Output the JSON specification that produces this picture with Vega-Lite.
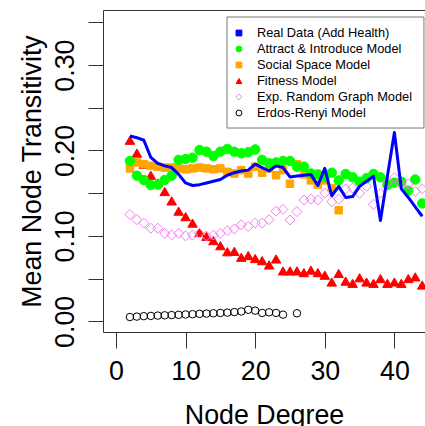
{
  "$schema": "https://vega.github.io/schema/vega-lite/v6.json",
  "autosize": "none",
  "width": 322,
  "height": 322,
  "padding": {"left": 103, "top": 10, "right": 0, "bottom": 94},
  "background": "white",
  "config": {
    "view": {"stroke": null},
    "font": "Liberation Sans",
    "axis": {"grid": false, "domainColor": "#333333", "tickColor": "#333333", "labelColor": "black", "titleColor": "black", "labelFont": "Liberation Sans", "titleFont": "Liberation Sans", "titleFontWeight": "normal", "domainWidth": 1, "tickWidth": 1}
  },
  "datasets": {
    "real": [
      {"x": 2, "y": 0.217}, {"x": 3, "y": 0.215}, {"x": 4, "y": 0.212}, {"x": 5, "y": 0.192}, {"x": 6, "y": 0.185},
      {"x": 7, "y": 0.182}, {"x": 8, "y": 0.180}, {"x": 9, "y": 0.172}, {"x": 10, "y": 0.162}, {"x": 11, "y": 0.159},
      {"x": 12, "y": 0.160}, {"x": 13, "y": 0.162}, {"x": 14, "y": 0.164}, {"x": 15, "y": 0.166}, {"x": 16, "y": 0.171},
      {"x": 17, "y": 0.174}, {"x": 18, "y": 0.176}, {"x": 19, "y": 0.177}, {"x": 20, "y": 0.184}, {"x": 21, "y": 0.180},
      {"x": 22, "y": 0.176}, {"x": 23, "y": 0.182}, {"x": 24, "y": 0.180}, {"x": 25, "y": 0.169}, {"x": 26, "y": 0.170},
      {"x": 27, "y": 0.171}, {"x": 28, "y": 0.172}, {"x": 29, "y": 0.159}, {"x": 30, "y": 0.179}, {"x": 31, "y": 0.147},
      {"x": 32, "y": 0.158}, {"x": 33, "y": 0.145}, {"x": 34, "y": 0.146}, {"x": 35, "y": 0.158}, {"x": 36, "y": 0.164},
      {"x": 37, "y": 0.170}, {"x": 38, "y": 0.118}, {"x": 39, "y": 0.170}, {"x": 40, "y": 0.221}, {"x": 41, "y": 0.155},
      {"x": 42, "y": 0.145}, {"x": 43, "y": 0.134}, {"x": 44, "y": 0.123}
    ],
    "series": [
      {"s": "Real Data (Add Health)"}, {"s": "Attract & Introduce Model"}, {"s": "Social Space Model"},
      {"s": "Fitness Model"}, {"s": "Exp. Random Graph Model"}, {"s": "Erdos-Renyi Model"}
    ],
    "pts": [
      {"s": "Fitness Model", "x": 2, "y": 0.212}, {"s": "Fitness Model", "x": 3, "y": 0.197}, {"s": "Fitness Model", "x": 4, "y": 0.184},
      {"s": "Fitness Model", "x": 5, "y": 0.171}, {"s": "Fitness Model", "x": 6, "y": 0.162}, {"s": "Fitness Model", "x": 7, "y": 0.152},
      {"s": "Fitness Model", "x": 8, "y": 0.141}, {"s": "Fitness Model", "x": 9, "y": 0.129}, {"s": "Fitness Model", "x": 10, "y": 0.1225},
      {"s": "Fitness Model", "x": 11, "y": 0.115}, {"s": "Fitness Model", "x": 12, "y": 0.104}, {"s": "Fitness Model", "x": 13, "y": 0.0995},
      {"s": "Fitness Model", "x": 14, "y": 0.0945}, {"s": "Fitness Model", "x": 15, "y": 0.0885}, {"s": "Fitness Model", "x": 16, "y": 0.0815},
      {"s": "Fitness Model", "x": 17, "y": 0.082}, {"s": "Fitness Model", "x": 18, "y": 0.075}, {"s": "Fitness Model", "x": 19, "y": 0.077},
      {"s": "Fitness Model", "x": 20, "y": 0.0735}, {"s": "Fitness Model", "x": 21, "y": 0.071}, {"s": "Fitness Model", "x": 22, "y": 0.066},
      {"s": "Fitness Model", "x": 23, "y": 0.073}, {"s": "Fitness Model", "x": 24, "y": 0.059}, {"s": "Fitness Model", "x": 25, "y": 0.059},
      {"s": "Fitness Model", "x": 26, "y": 0.059}, {"s": "Fitness Model", "x": 27, "y": 0.057}, {"s": "Fitness Model", "x": 28, "y": 0.060},
      {"s": "Fitness Model", "x": 29, "y": 0.057}, {"s": "Fitness Model", "x": 30, "y": 0.054}, {"s": "Fitness Model", "x": 31, "y": 0.046},
      {"s": "Fitness Model", "x": 32, "y": 0.056}, {"s": "Fitness Model", "x": 33, "y": 0.047}, {"s": "Fitness Model", "x": 34, "y": 0.0445},
      {"s": "Fitness Model", "x": 35, "y": 0.051}, {"s": "Fitness Model", "x": 36, "y": 0.046}, {"s": "Fitness Model", "x": 37, "y": 0.0445},
      {"s": "Fitness Model", "x": 38, "y": 0.050}, {"s": "Fitness Model", "x": 39, "y": 0.0445}, {"s": "Fitness Model", "x": 40, "y": 0.046},
      {"s": "Fitness Model", "x": 41, "y": 0.0445}, {"s": "Fitness Model", "x": 42, "y": 0.050}, {"s": "Fitness Model", "x": 43, "y": 0.052},
      {"s": "Fitness Model", "x": 44, "y": 0.0425},

      {"s": "Social Space Model", "x": 2, "y": 0.179}, {"s": "Social Space Model", "x": 3, "y": 0.186}, {"s": "Social Space Model", "x": 4, "y": 0.184},
      {"s": "Social Space Model", "x": 5, "y": 0.182}, {"s": "Social Space Model", "x": 6, "y": 0.181}, {"s": "Social Space Model", "x": 7, "y": 0.180},
      {"s": "Social Space Model", "x": 8, "y": 0.180}, {"s": "Social Space Model", "x": 9, "y": 0.179}, {"s": "Social Space Model", "x": 10, "y": 0.178},
      {"s": "Social Space Model", "x": 11, "y": 0.179}, {"s": "Social Space Model", "x": 12, "y": 0.180}, {"s": "Social Space Model", "x": 13, "y": 0.179},
      {"s": "Social Space Model", "x": 14, "y": 0.178}, {"s": "Social Space Model", "x": 15, "y": 0.179}, {"s": "Social Space Model", "x": 16, "y": 0.175},
      {"s": "Social Space Model", "x": 17, "y": 0.173}, {"s": "Social Space Model", "x": 18, "y": 0.177}, {"s": "Social Space Model", "x": 19, "y": 0.173},
      {"s": "Social Space Model", "x": 20, "y": 0.181}, {"s": "Social Space Model", "x": 21, "y": 0.174}, {"s": "Social Space Model", "x": 22, "y": 0.179},
      {"s": "Social Space Model", "x": 23, "y": 0.171}, {"s": "Social Space Model", "x": 24, "y": 0.177}, {"s": "Social Space Model", "x": 25, "y": 0.161},
      {"s": "Social Space Model", "x": 26, "y": 0.184}, {"s": "Social Space Model", "x": 27, "y": 0.172}, {"s": "Social Space Model", "x": 28, "y": 0.165},
      {"s": "Social Space Model", "x": 29, "y": 0.160}, {"s": "Social Space Model", "x": 30, "y": 0.165}, {"s": "Social Space Model", "x": 31, "y": 0.156},
      {"s": "Social Space Model", "x": 32, "y": 0.130},

      {"s": "Attract & Introduce Model", "x": 2, "y": 0.1877}, {"s": "Attract & Introduce Model", "x": 3, "y": 0.1705}, {"s": "Attract & Introduce Model", "x": 4, "y": 0.1655},
      {"s": "Attract & Introduce Model", "x": 5, "y": 0.1596}, {"s": "Attract & Introduce Model", "x": 6, "y": 0.160}, {"s": "Attract & Introduce Model", "x": 7, "y": 0.1655},
      {"s": "Attract & Introduce Model", "x": 8, "y": 0.1705}, {"s": "Attract & Introduce Model", "x": 9, "y": 0.189}, {"s": "Attract & Introduce Model", "x": 10, "y": 0.190},
      {"s": "Attract & Introduce Model", "x": 11, "y": 0.1916}, {"s": "Attract & Introduce Model", "x": 12, "y": 0.2006}, {"s": "Attract & Introduce Model", "x": 13, "y": 0.1986},
      {"s": "Attract & Introduce Model", "x": 14, "y": 0.1935}, {"s": "Attract & Introduce Model", "x": 15, "y": 0.1986}, {"s": "Attract & Introduce Model", "x": 16, "y": 0.2018},
      {"s": "Attract & Introduce Model", "x": 17, "y": 0.1986}, {"s": "Attract & Introduce Model", "x": 18, "y": 0.1967}, {"s": "Attract & Introduce Model", "x": 19, "y": 0.198},
      {"s": "Attract & Introduce Model", "x": 20, "y": 0.2012}, {"s": "Attract & Introduce Model", "x": 21, "y": 0.189}, {"s": "Attract & Introduce Model", "x": 22, "y": 0.185},
      {"s": "Attract & Introduce Model", "x": 23, "y": 0.186}, {"s": "Attract & Introduce Model", "x": 24, "y": 0.1877}, {"s": "Attract & Introduce Model", "x": 25, "y": 0.1877},
      {"s": "Attract & Introduce Model", "x": 26, "y": 0.181}, {"s": "Attract & Introduce Model", "x": 27, "y": 0.181}, {"s": "Attract & Introduce Model", "x": 28, "y": 0.173},
      {"s": "Attract & Introduce Model", "x": 29, "y": 0.172}, {"s": "Attract & Introduce Model", "x": 30, "y": 0.169}, {"s": "Attract & Introduce Model", "x": 31, "y": 0.174},
      {"s": "Attract & Introduce Model", "x": 32, "y": 0.165}, {"s": "Attract & Introduce Model", "x": 33, "y": 0.1725}, {"s": "Attract & Introduce Model", "x": 34, "y": 0.1686},
      {"s": "Attract & Introduce Model", "x": 35, "y": 0.1635}, {"s": "Attract & Introduce Model", "x": 36, "y": 0.1675}, {"s": "Attract & Introduce Model", "x": 37, "y": 0.1725},
      {"s": "Attract & Introduce Model", "x": 38, "y": 0.1686}, {"s": "Attract & Introduce Model", "x": 39, "y": 0.1596}, {"s": "Attract & Introduce Model", "x": 40, "y": 0.1623},
      {"s": "Attract & Introduce Model", "x": 41, "y": 0.1635}, {"s": "Attract & Introduce Model", "x": 42, "y": 0.153}, {"s": "Attract & Introduce Model", "x": 43, "y": 0.166},
      {"s": "Attract & Introduce Model", "x": 44, "y": 0.138},

      {"s": "Exp. Random Graph Model", "x": 2, "y": 0.125}, {"s": "Exp. Random Graph Model", "x": 3, "y": 0.119}, {"s": "Exp. Random Graph Model", "x": 4, "y": 0.115},
      {"s": "Exp. Random Graph Model", "x": 5, "y": 0.109}, {"s": "Exp. Random Graph Model", "x": 6, "y": 0.109}, {"s": "Exp. Random Graph Model", "x": 7, "y": 0.103},
      {"s": "Exp. Random Graph Model", "x": 8, "y": 0.101}, {"s": "Exp. Random Graph Model", "x": 9, "y": 0.103}, {"s": "Exp. Random Graph Model", "x": 10, "y": 0.100},
      {"s": "Exp. Random Graph Model", "x": 11, "y": 0.101}, {"s": "Exp. Random Graph Model", "x": 12, "y": 0.103}, {"s": "Exp. Random Graph Model", "x": 13, "y": 0.100},
      {"s": "Exp. Random Graph Model", "x": 14, "y": 0.101}, {"s": "Exp. Random Graph Model", "x": 15, "y": 0.103}, {"s": "Exp. Random Graph Model", "x": 16, "y": 0.106},
      {"s": "Exp. Random Graph Model", "x": 17, "y": 0.108}, {"s": "Exp. Random Graph Model", "x": 18, "y": 0.113}, {"s": "Exp. Random Graph Model", "x": 19, "y": 0.111},
      {"s": "Exp. Random Graph Model", "x": 20, "y": 0.115}, {"s": "Exp. Random Graph Model", "x": 21, "y": 0.115}, {"s": "Exp. Random Graph Model", "x": 22, "y": 0.119},
      {"s": "Exp. Random Graph Model", "x": 23, "y": 0.129}, {"s": "Exp. Random Graph Model", "x": 24, "y": 0.131}, {"s": "Exp. Random Graph Model", "x": 25, "y": 0.1186},
      {"s": "Exp. Random Graph Model", "x": 26, "y": 0.1285}, {"s": "Exp. Random Graph Model", "x": 27, "y": 0.142}, {"s": "Exp. Random Graph Model", "x": 28, "y": 0.143},
      {"s": "Exp. Random Graph Model", "x": 29, "y": 0.142}, {"s": "Exp. Random Graph Model", "x": 30, "y": 0.150}, {"s": "Exp. Random Graph Model", "x": 31, "y": 0.140},
      {"s": "Exp. Random Graph Model", "x": 32, "y": 0.143}, {"s": "Exp. Random Graph Model", "x": 33, "y": 0.155}, {"s": "Exp. Random Graph Model", "x": 34, "y": 0.156},
      {"s": "Exp. Random Graph Model", "x": 35, "y": 0.150}, {"s": "Exp. Random Graph Model", "x": 36, "y": 0.158}, {"s": "Exp. Random Graph Model", "x": 37, "y": 0.137},
      {"s": "Exp. Random Graph Model", "x": 38, "y": 0.150}, {"s": "Exp. Random Graph Model", "x": 39, "y": 0.162}, {"s": "Exp. Random Graph Model", "x": 40, "y": 0.168},
      {"s": "Exp. Random Graph Model", "x": 41, "y": 0.160}, {"s": "Exp. Random Graph Model", "x": 42, "y": 0.161}, {"s": "Exp. Random Graph Model", "x": 43, "y": 0.152},
      {"s": "Exp. Random Graph Model", "x": 44, "y": 0.155},

      {"s": "Erdos-Renyi Model", "x": 2, "y": 0.005}, {"s": "Erdos-Renyi Model", "x": 3, "y": 0.0055}, {"s": "Erdos-Renyi Model", "x": 4, "y": 0.006},
      {"s": "Erdos-Renyi Model", "x": 5, "y": 0.0063}, {"s": "Erdos-Renyi Model", "x": 6, "y": 0.0067}, {"s": "Erdos-Renyi Model", "x": 7, "y": 0.007},
      {"s": "Erdos-Renyi Model", "x": 8, "y": 0.0073}, {"s": "Erdos-Renyi Model", "x": 9, "y": 0.0076}, {"s": "Erdos-Renyi Model", "x": 10, "y": 0.008},
      {"s": "Erdos-Renyi Model", "x": 11, "y": 0.0083}, {"s": "Erdos-Renyi Model", "x": 12, "y": 0.0087}, {"s": "Erdos-Renyi Model", "x": 13, "y": 0.009},
      {"s": "Erdos-Renyi Model", "x": 14, "y": 0.0094}, {"s": "Erdos-Renyi Model", "x": 15, "y": 0.0098}, {"s": "Erdos-Renyi Model", "x": 16, "y": 0.0102},
      {"s": "Erdos-Renyi Model", "x": 17, "y": 0.0108}, {"s": "Erdos-Renyi Model", "x": 18, "y": 0.0115}, {"s": "Erdos-Renyi Model", "x": 19, "y": 0.0135},
      {"s": "Erdos-Renyi Model", "x": 20, "y": 0.0125}, {"s": "Erdos-Renyi Model", "x": 21, "y": 0.0098}, {"s": "Erdos-Renyi Model", "x": 22, "y": 0.0105},
      {"s": "Erdos-Renyi Model", "x": 23, "y": 0.0098}, {"s": "Erdos-Renyi Model", "x": 24, "y": 0.0078}, {"s": "Erdos-Renyi Model", "x": 26, "y": 0.0094}
    ]
  },
  "resolve": {"scale": {"y": "independent"}, "axis": {"x": "independent", "y": "independent"}},
  "layer": [
    {
      "resolve": {"axis": {"x": "independent"}},
      "layer": [
        {
          "data": {"name": "pts"},
          "mark": {"type": "point", "filled": true, "opacity": 1, "strokeWidth": 1, "clip": true},
          "encoding": {
            "x": {"field": "x", "type": "quantitative",
              "scale": {"domain": [-1.868, 44.4], "nice": false, "zero": false},
              "axis": {"orient": "bottom", "values": [0, 10, 20, 30, 40], "tickSize": 16, "labelFontSize": 26.8, "labelPadding": 31.5, "labelBaseline": "alphabetic", "labelFlush": false, "labelOverlap": false, "labelBound": false,
                "title": "Node Degree", "titleFontSize": 26.8, "titleX": 161, "titleY": 91.3, "titleAlign": "center", "titleBaseline": "alphabetic"}},
            "y": {"field": "y", "type": "quantitative",
              "scale": {"domain": [-0.01253, 0.3645], "nice": false, "zero": false},
              "axis": {"values": [0, 0.05, 0.1, 0.15, 0.2, 0.25, 0.3, 0.35], "format": ".2f", "labelExpr": "round(datum.value*20) % 2 == 0 ? datum.label : ''",
                "tickSize": 15, "labelAngle": 270, "labelAlign": "center", "labelBaseline": "alphabetic", "labelPadding": 14.7, "labelFontSize": 26.8, "labelOverlap": false, "labelBound": false, "labelFlush": false,
                "title": "Mean Node Transitivity", "titleFontSize": 26.8, "titleAngle": 270, "titleX": -63, "titleY": 161, "titleAlign": "center", "titleBaseline": "alphabetic"}},
            "fill": {"field": "s", "type": "nominal",
              "scale": {"domain": ["Real Data (Add Health)", "Attract & Introduce Model", "Social Space Model", "Fitness Model", "Exp. Random Graph Model", "Erdos-Renyi Model"],
                        "range": ["#0000FF", "#00FF00", "#FFA500", "#FF0000", "transparent", "transparent"]},
              "legend": null},
            "stroke": {"field": "s", "type": "nominal",
              "scale": {"domain": ["Real Data (Add Health)", "Attract & Introduce Model", "Social Space Model", "Fitness Model", "Exp. Random Graph Model", "Erdos-Renyi Model"],
                        "range": ["#0000FF", "#00FF00", "#FFA500", "#FF0000", "#EE82EE", "#000000"]},
              "legend": null},
            "shape": {"field": "s", "type": "nominal",
              "scale": {"domain": ["Real Data (Add Health)", "Attract & Introduce Model", "Social Space Model", "Fitness Model", "Exp. Random Graph Model", "Erdos-Renyi Model"],
                        "range": ["square", "circle", "square", "triangle-up", "diamond", "circle"]},
              "legend": null},
            "size": {"field": "s", "type": "nominal",
              "scale": {"type": "ordinal", "domain": ["Real Data (Add Health)", "Attract & Introduce Model", "Social Space Model", "Fitness Model", "Exp. Random Graph Model", "Erdos-Renyi Model"],
                        "range": [40, 90, 56, 90, 100, 56]},
              "legend": null}
          }
        },
        {
          "data": {"name": "real"},
          "mark": {"type": "line", "color": "#0000FF", "strokeWidth": 3, "strokeJoin": "round", "clip": true},
          "encoding": {
            "x": {"field": "x", "type": "quantitative",
              "scale": {"domain": [-1.868, 44.4], "nice": false, "zero": false},
              "axis": {"orient": "top", "ticks": false, "labels": false, "title": null, "domain": true}},
            "y": {"field": "y", "type": "quantitative",
              "scale": {"domain": [-0.01253, 0.3645], "nice": false, "zero": false}}
          }
        },
        {
          "data": {"name": "series"},
          "transform": [{"filter": "datum.s == 'Real Data (Add Health)'"}],
          "mark": {"type": "rect", "fill": "white", "stroke": "#777777", "strokeWidth": 1},
          "encoding": {
            "x": {"datum": 15.95, "type": "quantitative", "axis": null},
            "x2": {"datum": 44.25},
            "y": {"datum": 0.3563, "type": "quantitative"},
            "y2": {"datum": 0.2263}
          }
        }
      ]
    },
    {
      "data": {"name": "series"},
      "encoding": {
        "y": {"field": "s", "type": "nominal", "axis": null,
          "scale": {"type": "point", "padding": 0, "domain": ["Real Data (Add Health)", "Attract & Introduce Model", "Social Space Model", "Fitness Model", "Exp. Random Graph Model", "Erdos-Renyi Model"], "range": [23, 103]}}
      },
      "layer": [
        {
          "mark": {"type": "point", "filled": true, "opacity": 1, "strokeWidth": 1, "size": 34},
          "encoding": {
            "x": {"datum": 17.67, "type": "quantitative", "axis": null},
            "fill": {"field": "s", "type": "nominal", "legend": null},
            "stroke": {"field": "s", "type": "nominal", "legend": null},
            "shape": {"field": "s", "type": "nominal", "legend": null}
          }
        },
        {
          "mark": {"type": "text", "align": "left", "baseline": "middle", "font": "Liberation Sans", "fontSize": 12.8, "color": "black"},
          "encoding": {
            "x": {"datum": 20.26, "type": "quantitative", "axis": null},
            "text": {"field": "s", "type": "nominal"}
          }
        }
      ]
    }
  ]
}
